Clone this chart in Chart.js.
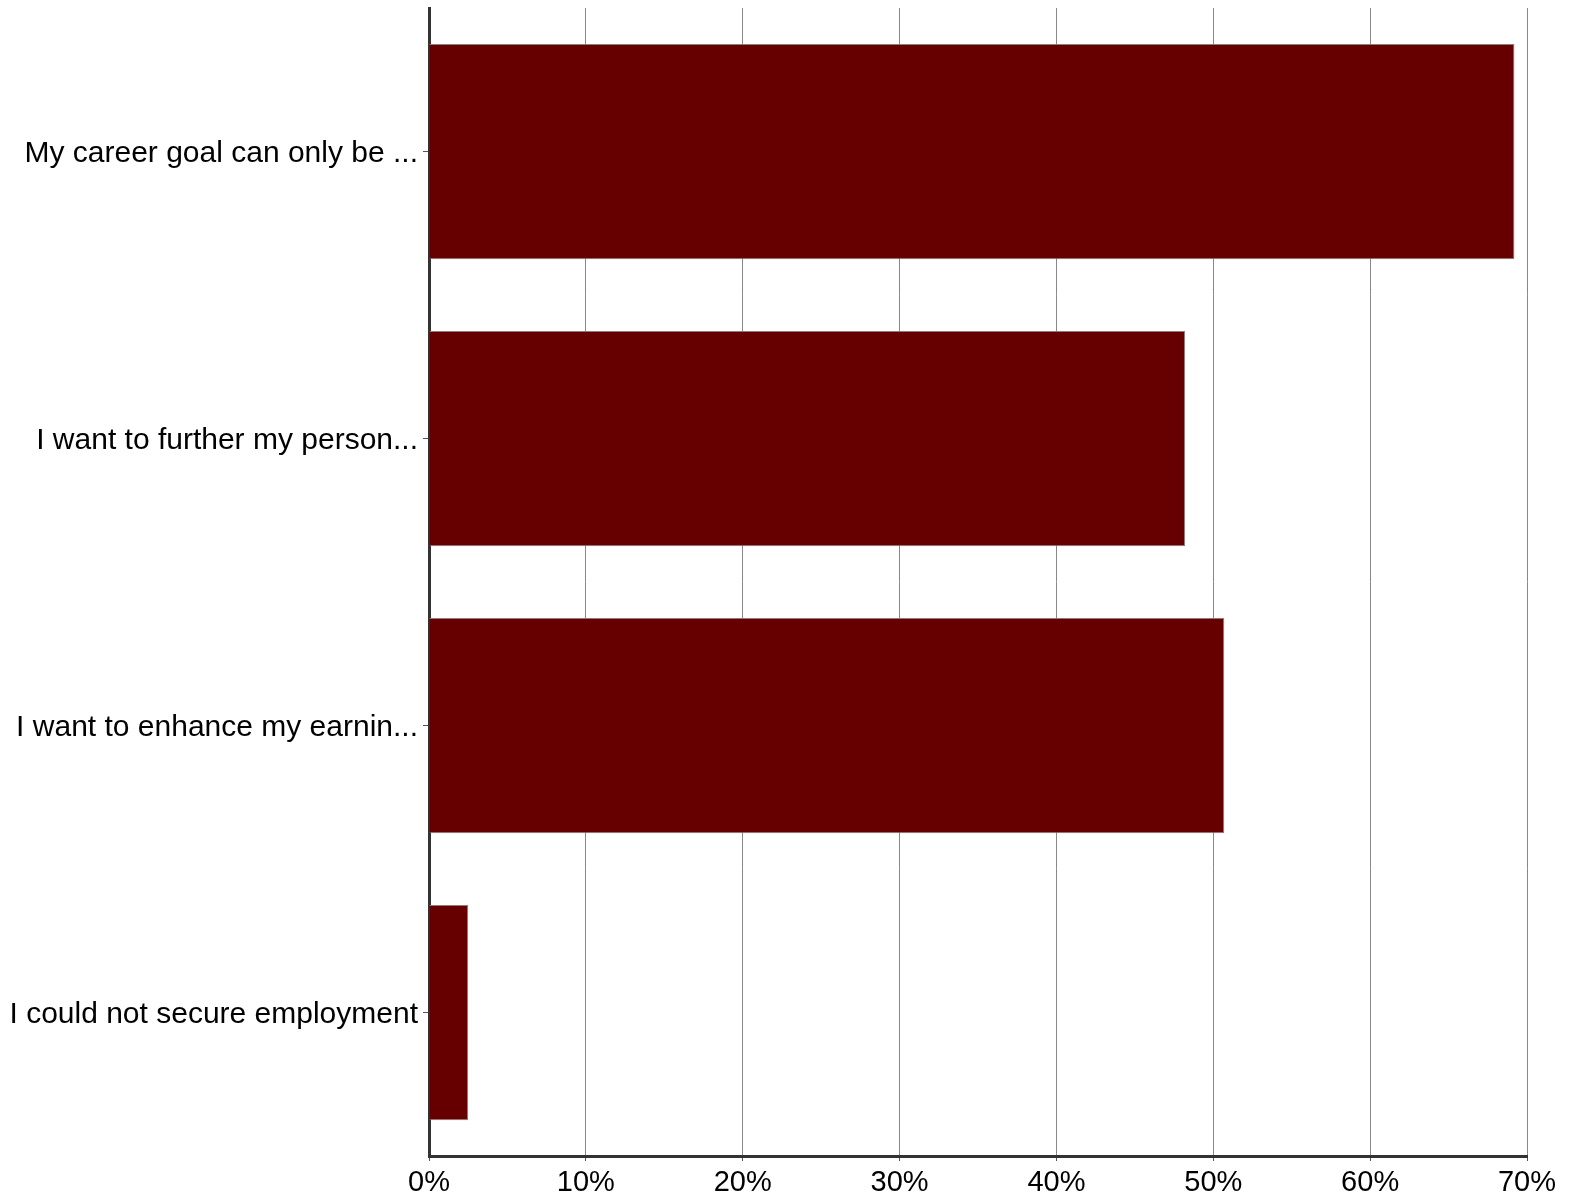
<!DOCTYPE html>
<html>
<head>
<meta charset="utf-8">
<script src="https://cdn.jsdelivr.net/npm/chart.js@4"></script>
<style>
  html, body { margin: 0; padding: 0; background: #fff; }
  #wrap { width: 1573px; height: 1199px; }
</style>
</head>
<body>
<div id="wrap"><canvas id="chart" width="1573" height="1199"></canvas></div>
<script>
  // ======= Data =======
  const categories = [
    "My career goal can only be ...",
    "I want to further my person...",
    "I want to enhance my earnin...",
    "I could not secure employment"
  ];
  const shares = [69.2, 48.2, 50.7, 2.5];   // percent of respondents
  const xTicks = [0, 10, 20, 30, 40, 50, 60, 70];

  const FONT = "'Liberation Sans', Arial, sans-serif";

  new Chart(document.getElementById("chart"), {
    type: "bar",
    data: {
      labels: categories,
      datasets: [{
        data: shares,
        backgroundColor: "#660000",
        borderColor: "#8c7c7c",
        borderWidth: 1,
        categoryPercentage: 0.75,
        barPercentage: 1
      }]
    },
    options: {
      indexAxis: "y",
      responsive: false,
      animation: false,
      layout: { padding: { top: 8, right: 46, left: 0, bottom: 0 } },
      plugins: { legend: { display: false }, tooltip: { enabled: false } },
      scales: {
        x: {
          min: xTicks[0],
          max: xTicks[xTicks.length - 1],
          afterBuildTicks: s => { s.ticks = xTicks.map(v => ({ value: v })); },
          afterFit: s => { s.height = 43; },
          ticks: {
            color: "#000",
            font: { family: FONT, size: 29 },
            padding: 5,
            callback: v => v + "%"
          },
          grid: { color: "#888", lineWidth: 1, tickLength: 5, tickColor: "#555" },
          border: { color: "#333", width: 3 }
        },
        y: {
          afterFit: s => { s.width = 429; s.paddingTop = 0; s.paddingBottom = 0; },
          ticks: {
            color: "#000",
            font: { family: FONT, size: 30 },
            padding: 5,
            labelOffset: 2
          },
          grid: { drawOnChartArea: false, offset: false, tickLength: 6, color: "#555", lineWidth: 1 },
          border: { color: "#333", width: 3 }
        }
      }
    }
  });
</script>
</body>
</html>
